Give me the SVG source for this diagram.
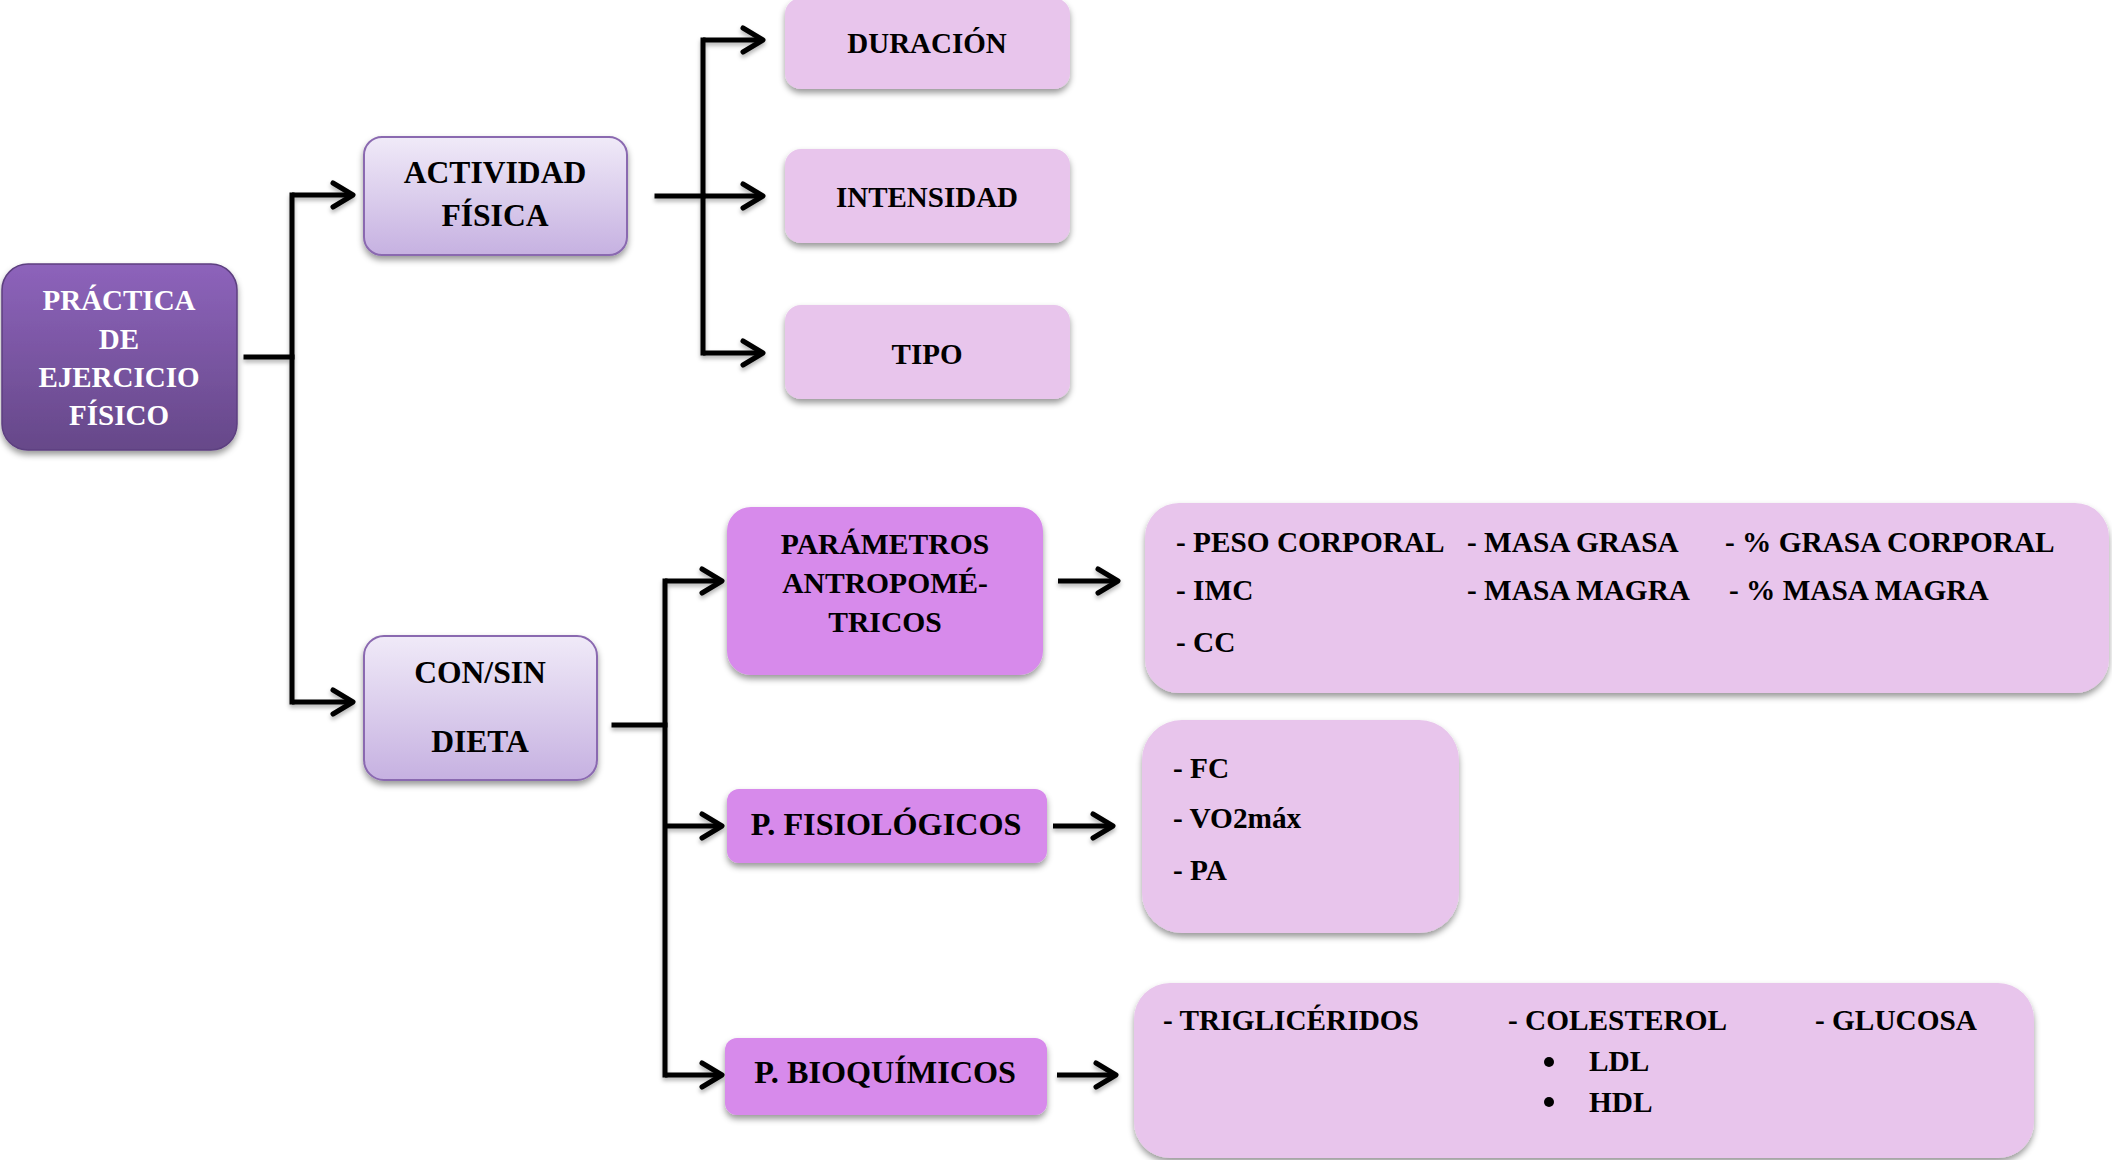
<svg xmlns="http://www.w3.org/2000/svg" width="2112" height="1160" viewBox="0 0 2112 1160">
<defs>
<linearGradient id="gMain" x1="0" y1="0" x2="0" y2="1">
<stop offset="0" stop-color="#8d63bb"/>
<stop offset="1" stop-color="#664889"/>
</linearGradient>
<linearGradient id="gLav" x1="0" y1="0" x2="0" y2="1">
<stop offset="0" stop-color="#f0eaf8"/>
<stop offset="1" stop-color="#c6b1e1"/>
</linearGradient>
<filter id="sh" x="-10%" y="-10%" width="120%" height="130%">
<feDropShadow dx="0" dy="4" stdDeviation="3" flood-color="#000" flood-opacity="0.4"/>
</filter>
<filter id="shl" x="-10%" y="-10%" width="120%" height="130%">
<feDropShadow dx="0" dy="3" stdDeviation="2" flood-color="#000" flood-opacity="0.3"/>
</filter>
<marker id="ah" markerUnits="userSpaceOnUse" viewBox="-28 -18 34 36" markerWidth="34" markerHeight="36" refX="0" refY="0" orient="auto">
<path d="M-20,-12 L0,0 L-20,12" fill="none" stroke="#000" stroke-width="5" stroke-linejoin="round" stroke-linecap="round"/>
</marker>
</defs>
<style>
text{font-family:"Liberation Serif","Times New Roman",serif;font-weight:bold;fill:#000}
.c{text-anchor:middle}
.w{fill:#fff}
.t29{font-size:29px}
.t30{font-size:29.6px}
.t31{font-size:31.6px}
.t32{font-size:32.2px}
.it{font-size:29.3px}
.lav{fill:url(#gLav);stroke:#8a69b0;stroke-width:2}
.pk{fill:#e8c5ec}
.or{fill:#d78aeb}
.ln{fill:none;stroke:#000;stroke-width:5;stroke-linecap:square}
.ar{fill:none;stroke:#000;stroke-width:5;marker-end:url(#ah)}
</style>

<g id="connectors" filter="url(#shl)">
<path class="ln" d="M246,357 H292"/>
<path class="ln" d="M292,195 V702"/>
<path class="ar" d="M292,195 H353"/>
<path class="ar" d="M292,702 H353"/>
<path class="ln" d="M657,196 H703"/>
<path class="ln" d="M703,40 V353"/>
<path class="ar" d="M703,40 H763"/>
<path class="ar" d="M703,196 H763"/>
<path class="ar" d="M703,353 H763"/>
<path class="ln" d="M614,725 H665"/>
<path class="ln" d="M665,581 V1075"/>
<path class="ar" d="M665,581 H722"/>
<path class="ar" d="M665,826 H722"/>
<path class="ar" d="M665,1075 H722"/>
<path class="ar" d="M1058,581 H1118"/>
<path class="ar" d="M1053,826 H1113"/>
<path class="ar" d="M1057,1075 H1116"/>
</g>

<g id="practica">
<rect x="2" y="264" width="235" height="186" rx="26" fill="url(#gMain)" stroke="#5d3f80" stroke-width="1.5" filter="url(#sh)"/>
<text class="c w t29" x="119" y="310">PRÁCTICA</text>
<text class="c w t29" x="119" y="349">DE</text>
<text class="c w t29" x="119" y="387">EJERCICIO</text>
<text class="c w t29" x="119" y="425">FÍSICO</text>
</g>

<g id="actividad">
<rect class="lav" x="364" y="137" width="263" height="118" rx="18" filter="url(#sh)"/>
<text class="c t31" x="495" y="183">ACTIVIDAD</text>
<text class="c t31" x="495" y="226">FÍSICA</text>
</g>

<g id="consin">
<rect class="lav" x="364" y="636" width="233" height="144" rx="20" filter="url(#sh)"/>
<text class="c t31" x="480" y="683">CON/SIN</text>
<text class="c t31" x="480" y="752">DIETA</text>
</g>

<g id="duracion">
<rect class="pk" x="785" y="-2" width="285" height="91" rx="16" filter="url(#sh)"/>
<text class="c t29" x="927" y="53">DURACIÓN</text>
</g>

<g id="intensidad">
<rect class="pk" x="785" y="149" width="285" height="94" rx="16" filter="url(#sh)"/>
<text class="c t29" x="927" y="207">INTENSIDAD</text>
</g>

<g id="tipo">
<rect class="pk" x="785" y="305" width="285" height="94" rx="16" filter="url(#sh)"/>
<text class="c t29" x="927" y="364">TIPO</text>
</g>

<g id="parametros">
<rect class="or" x="727" y="507" width="316" height="168" rx="24" filter="url(#sh)"/>
<text class="c t30" x="885" y="554">PARÁMETROS</text>
<text class="c t30" x="885" y="593">ANTROPOMÉ-</text>
<text class="c t30" x="885" y="632">TRICOS</text>
</g>

<g id="fisiologicos">
<rect class="or" x="727" y="789" width="320" height="74" rx="12" filter="url(#sh)"/>
<text class="c t32" x="886" y="835">P. FISIOLÓGICOS</text>
</g>

<g id="bioquimicos">
<rect class="or" x="725" y="1038" width="322" height="77" rx="12" filter="url(#sh)"/>
<text class="c t32" x="885" y="1083">P. BIOQUÍMICOS</text>
</g>

<g id="antropometricos">
<rect class="pk" x="1145" y="503" width="964" height="190" rx="34" filter="url(#sh)"/>
<text class="it" x="1176" y="552">- PESO CORPORAL</text>
<text class="it" x="1467" y="552">- MASA GRASA</text>
<text class="it" x="1725" y="552">- % GRASA CORPORAL</text>
<text class="it" x="1176" y="600">- IMC</text>
<text class="it" x="1467" y="600">- MASA MAGRA</text>
<text class="it" x="1729" y="600">- % MASA MAGRA</text>
<text class="it" x="1176" y="652">- CC</text>
</g>

<g id="fisio-items">
<rect class="pk" x="1142" y="720" width="317" height="213" rx="40" filter="url(#sh)"/>
<text class="it" x="1173" y="778">- FC</text>
<text class="it" x="1173" y="828">- VO2máx</text>
<text class="it" x="1173" y="880">- PA</text>
</g>

<g id="bio-items">
<rect class="pk" x="1134" y="983" width="900" height="175" rx="36" filter="url(#sh)"/>
<text class="it" x="1163" y="1030">- TRIGLICÉRIDOS</text>
<text class="it" x="1508" y="1030">- COLESTEROL</text>
<text class="it" x="1815" y="1030">- GLUCOSA</text>
<circle cx="1549" cy="1062" r="5"/>
<text class="it" x="1589" y="1071">LDL</text>
<circle cx="1549" cy="1102" r="5"/>
<text class="it" x="1589" y="1112">HDL</text>
</g>
</svg>
